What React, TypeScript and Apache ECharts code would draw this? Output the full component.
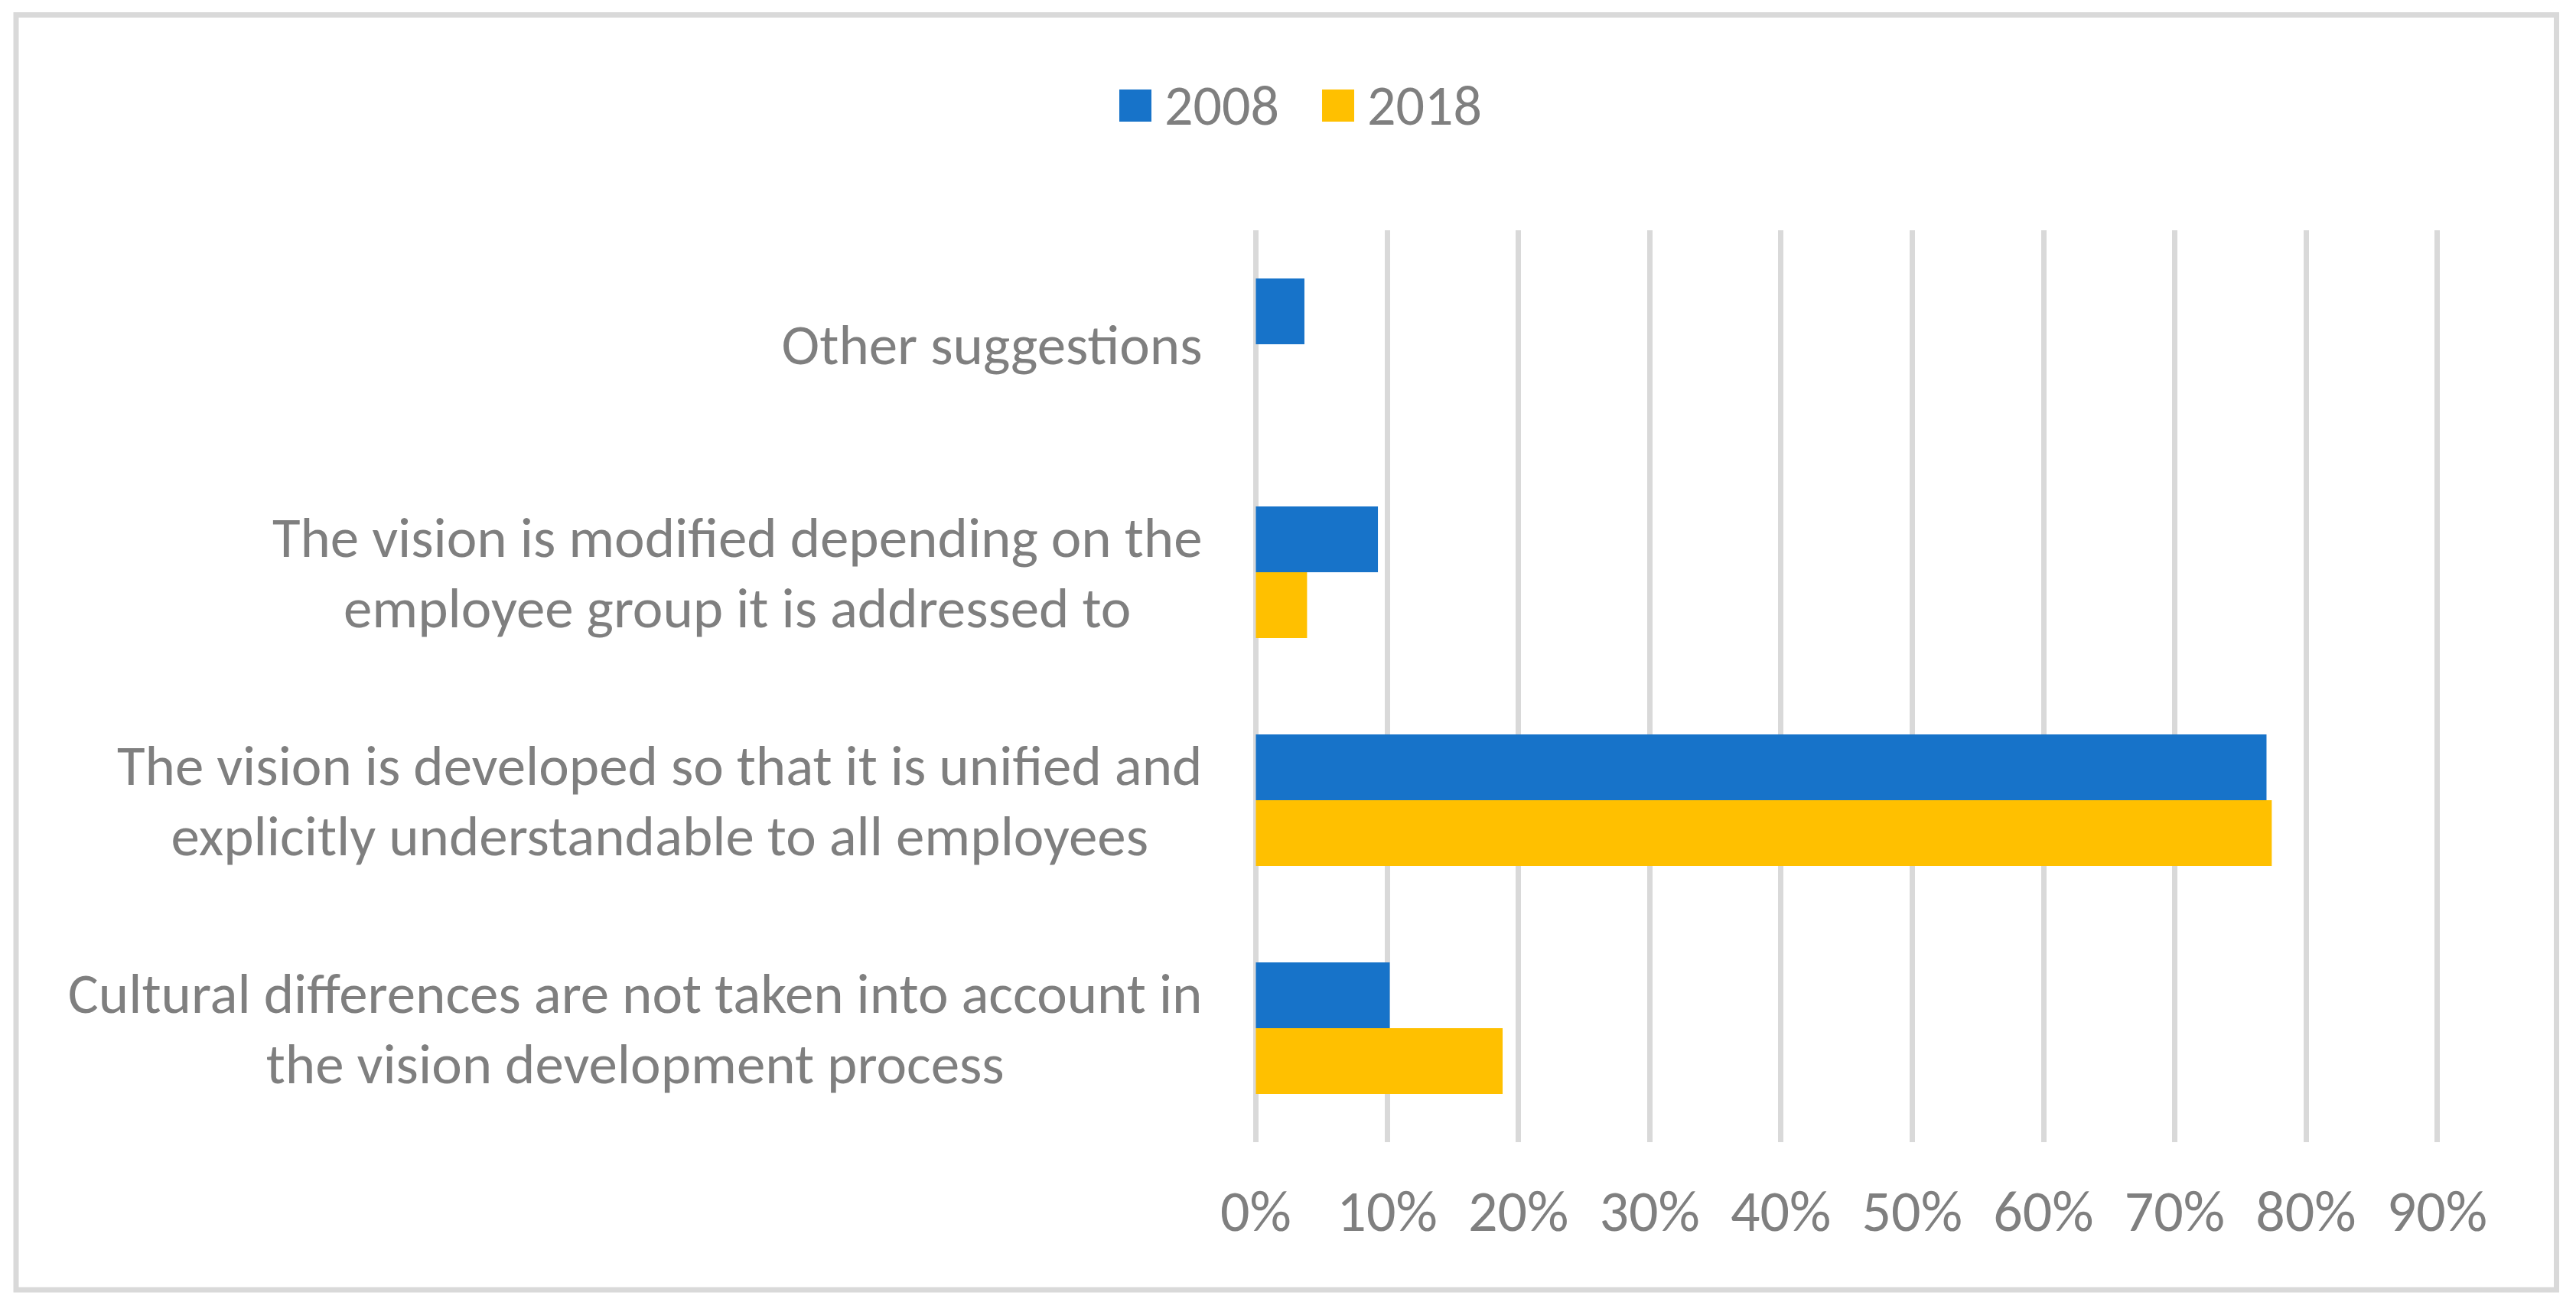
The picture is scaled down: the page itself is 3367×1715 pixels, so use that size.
import React, { useEffect, useRef } from "react";
import * as echarts from "echarts";

const categories = [
  "Other suggestions",
  "The vision is modified depending on the\nemployee group it is addressed to",
  "The vision is developed so that it is unified and\nexplicitly understandable to all employees",
  "Cultural differences are not taken into account in\nthe vision development process",
];
const seriesNames = ["2008", "2018"];
const values2008 = [3.7, 9.3, 77.0, 10.2];
const values2018 = [0, 3.9, 77.4, 18.8];
const xTicks = [0, 10, 20, 30, 40, 50, 60, 70, 80, 90];

const FONT = "Carlito, Calibri, Lato, sans-serif";
const GRAY = "#7f7f7f";

export default function App() {
  const ref = useRef<HTMLDivElement>(null);
  useEffect(() => {
    if (!ref.current) return;
    const chart = echarts.init(ref.current, null, { renderer: "svg" });
    chart.setOption({
      animation: false,
      backgroundColor: "#ffffff",
      legend: {
        data: seriesNames,
        left: 1458,
        top: 96,
        itemWidth: 42,
        itemHeight: 42,
        itemGap: 56,
        icon: "rect",
        textStyle: { fontFamily: FONT, fontSize: 74, color: GRAY, padding: [0, 0, 0, 12] },
      },
      grid: {
        left: 1641.5,
        right: 181.5,
        top: 301,
        bottom: 222,
        containLabel: false,
        outerBoundsMode: "none",
      },
      xAxis: {
        type: "value",
        min: xTicks[0],
        max: xTicks[xTicks.length - 1],
        interval: 10,
        axisLine: { show: false },
        axisTick: { show: false },
        splitLine: { show: true, lineStyle: { color: "#d9d9d9", width: 7 } },
        axisLabel: {
          formatter: (v: number) => `${v}%`,
          fontFamily: FONT,
          fontSize: 76,
          color: GRAY,
          margin: 52,
        },
      },
      yAxis: {
        type: "category",
        data: categories,
        inverse: true,
        axisLine: { show: false },
        axisTick: { show: false },
        splitLine: { show: false },
        axisLabel: {
          margin: 70,
          align: "right",
          formatter: (v: string) => v.split("\n").map((l) => `{c|${l}}`).join("\n"),
          rich: {
            c: { align: "center", fontFamily: FONT, fontSize: 75, color: GRAY, lineHeight: 92 },
          },
        },
      },
      series: [
        {
          name: seriesNames[0],
          type: "bar",
          data: values2008,
          itemStyle: { color: "#1773c9" },
          barGap: "0%",
          barCategoryGap: "42.3%",
        },
        {
          name: seriesNames[1],
          type: "bar",
          data: values2018,
          itemStyle: { color: "#ffc000" },
          barGap: "0%",
          barCategoryGap: "42.3%",
        },
      ],
      graphic: [
        {
          type: "rect",
          shape: { x: 21, y: 19.5, width: 3320.5, height: 1666.5 },
          style: { fill: "none", stroke: "#d9d9d9", lineWidth: 7 },
          silent: true,
        },
      ],
    });
    return () => chart.dispose();
  }, []);
  return (
    <div
      ref={ref}
      style={{ position: "fixed", left: 0, top: 0, width: 3367, height: 1715 }}
    />
  );
}
